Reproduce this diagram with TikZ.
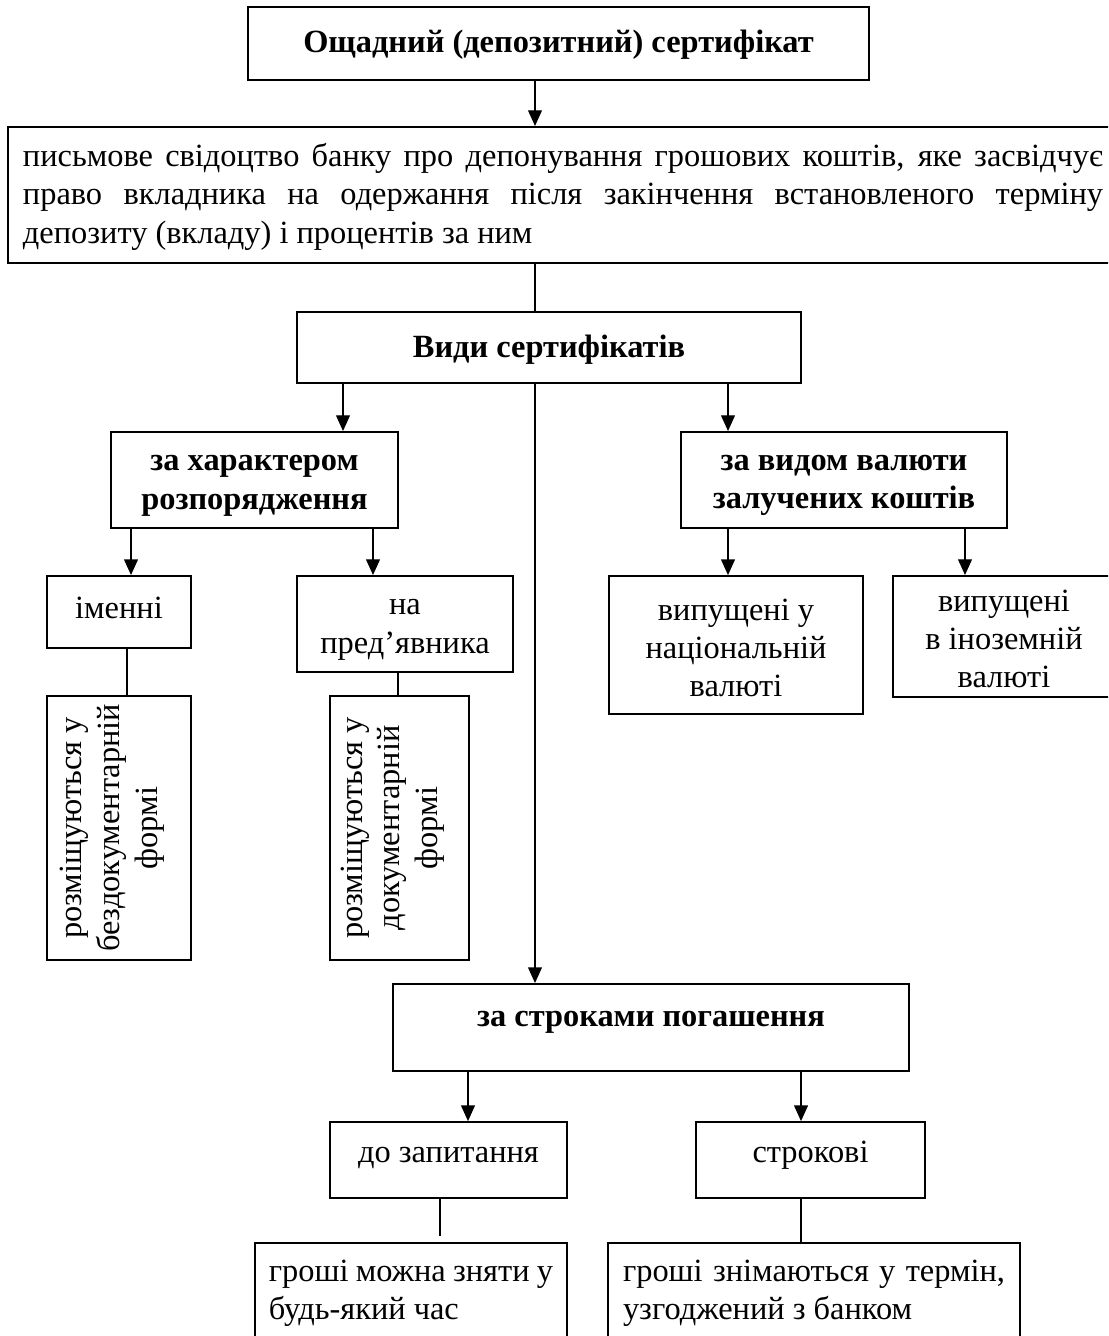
\documentclass[tikz,border=0pt]{standalone}
\usepackage{fontspec}
\setmainfont{Liberation Serif}
\usetikzlibrary{arrows.meta}

\begin{document}
\begin{tikzpicture}[x=0.432pt,y=-0.432pt,
  box/.style={draw,line width=0.8pt,inner sep=0pt,align=center,font=\fontsize{14}{16.5}\selectfont},
  head/.style={box,font=\fontsize{14}{16.5}\selectfont\bfseries},
  single/.style={text height=9pt,text depth=#1},
  vbox/.style={box,rotate=90,text depth=9pt,font=\fontsize{14}{16.3}\selectfont},
  note/.style={draw,line width=0.8pt,inner xsep=6pt,inner ysep=7.3pt,font=\fontsize{14}{16.5}\selectfont},
  arr/.style={-{Triangle[length=6.8pt,width=6pt]},line width=0.6pt},
  link/.style={line width=0.6pt}]

\useasboundingbox (0,0) rectangle (1108,1336);
\clip (0,0) rectangle (1108,1336);

\node[head,single=0.8pt,minimum width=268.3pt,minimum height=31.5pt] (cert) at (558.5,43.5) {Ощадний (депозитний) сертифікат};
\node[box,align=justify,text width=466.6pt,inner xsep=6.5pt,minimum height=58.8pt] (def) at (563,195)
  {\strut письмове свідоцтво банку про депонування грошових коштів, яке засвідчує\linebreak
   право вкладника на одержання після закінчення встановленого терміну\linebreak
   депозиту (вкладу) і процентів за ним};
\node[head,single=0.6pt,minimum width=217.7pt,minimum height=30.7pt] (kinds) at (549,347.5) {Види сертифікатів};

\node[head,minimum width=124pt,minimum height=41.5pt] (order) at (254.5,480) {\strut за характером\\розпорядження};
\node[head,minimum width=140.8pt,minimum height=41.5pt] (curr) at (844,480) {\strut за видом валюти\\залучених коштів};

\node[box,single=3.8pt,minimum width=62.2pt,minimum height=31.1pt] (named) at (119,612) {іменні};
\node[box,minimum width=93.3pt,minimum height=41.5pt] (bearer) at (405,624) {\strut на\\пред’явника};
\node[box,minimum width=109.7pt,minimum height=59.6pt] (natl) at (736,645) {\strut випущені у\\національній\\валюті};
\node[box,minimum width=95.9pt,minimum height=52.3pt] (frgn) at (1004,636.5) {\strut випущені\\в іноземній\\валюті};

\node[vbox,minimum width=114pt,minimum height=62.2pt] (paperless) at (119,828) {розміщуються у\\бездокументарній\\формі};
\node[vbox,minimum width=114pt,minimum height=60pt] (paper) at (399.5,828) {розміщуються у\\документарній\\формі};

\node[head,single=9.5pt,minimum width=222.9pt,minimum height=37.6pt] (term) at (651,1027.5) {за строками погашення};
\node[box,single=6.8pt,minimum width=102.4pt,minimum height=32.8pt] (demand) at (448.5,1160) {до запитання};
\node[box,single=6.8pt,minimum width=98.9pt,minimum height=32.8pt] (fixed) at (810.5,1160) {строкові};

\node[note,anchor=north] (anytime) at (411,1242) {\parbox[t][60pt][t]{122.8pt}{гроші можна зняти у\linebreak будь-який час}};
\node[note,anchor=north,inner xsep=6.5pt] (agreed) at (814,1242) {\parbox[t][60pt][t]{165pt}{гроші знімаються у термін,\linebreak узгоджений з банком}};

% connectors
\draw[arr] (cert.south -| 535,0) -- (def.north -| 535,0);
\draw[link] (def.south -| 535,0) -- (kinds.north -| 535,0);
\draw[arr] (kinds.south -| 535,0) -- (term.north -| 535,0);
\draw[arr] (kinds.south -| 343,0) -- (order.north -| 343,0);
\draw[arr] (kinds.south -| 728,0) -- (curr.north -| 728,0);
\draw[arr] (order.south -| 131,0) -- (named.north -| 131,0);
\draw[arr] (order.south -| 373,0) -- (bearer.north -| 373,0);
\draw[arr] (curr.south -| 728,0) -- (natl.north -| 728,0);
\draw[arr] (curr.south -| 965,0) -- (frgn.north -| 965,0);
\draw[link] (named.south -| 127,0) -- (paperless.east -| 127,0);
\draw[link] (bearer.south -| 398,0) -- (paper.east -| 398,0);
\draw[arr] (term.south -| 468,0) -- (demand.north -| 468,0);
\draw[arr] (term.south -| 801,0) -- (fixed.north -| 801,0);
\draw[link,shorten >=2.6pt] (demand.south -| 440,0) -- (anytime.north -| 440,0);
\draw[link] (fixed.south -| 801,0) -- (agreed.north -| 801,0);
\end{tikzpicture}
\end{document}
